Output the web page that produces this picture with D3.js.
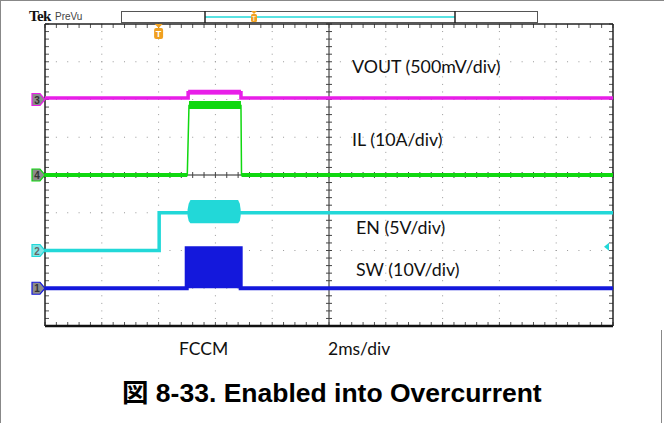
<!DOCTYPE html>
<html><head><meta charset="utf-8">
<script src="https://cdn.jsdelivr.net/npm/d3@7"></script>
<style>html,body{margin:0;padding:0;background:#fff}svg{display:block}</style>
</head><body>
<svg id="c" width="664" height="423"></svg>
<script>
// ---- data (time in ms, 2 ms/div, 10 div; values in channel units) ----
const timeDomain = [0, 20];
const divCount = [10, 8];
const channelNames = ["SW", "EN", "VOUT", "IL"];
const channelIds = ["1", "2", "3", "4"];
const channelScale = [10, 5, 0.5, 10];      // units per division
const channelOffsetDiv = [1, 2, 6, 4];      // ground marker position (div from bottom)
const channelColors = ["#1418dc", "#22d8d8", "#e81ee8", "#10d810"];
const channelLabels = ["SW (10V/div)", "EN (5V/div)", "VOUT (500mV/div)", "IL (10A/div)"];

// SW (V)
const swTime = [0, 4.99, 4.99, 6.89, 6.89, 20];
const swVal  = [0, 0, 10.6, 10.6, 0, 0];
// EN (V)
const enTime = [0, 4.02, 4.02, 20];
const enVal  = [0, 0, 5.0, 5.0];
const enBandTime = [5.02, 5.06, 5.12, 6.80, 6.86, 6.89];
const enBandMin  = [4.6, 3.9, 3.6, 3.6, 3.9, 4.6];
const enBandMax  = [5.4, 6.2, 6.7, 6.7, 6.2, 5.4];
// VOUT (V)
const voutTime = [0, 5.04, 5.04, 6.90, 6.90, 20];
const voutVal  = [0.02, 0.02, 0.09, 0.09, 0.02, 0.02];
const voutBandTime = [5.04, 6.90];
const voutBandMin  = [0.07, 0.07];
const voutBandMax  = [0.13, 0.13];
// IL (A)
const ilTime = [0, 5.01, 5.07, 6.90, 6.92, 20];
const ilVal  = [0, 0, 18.4, 18.4, 0, 0];
const ilBandTime = [5.07, 6.90];
const ilBandMin  = [17.5, 17.5];
const ilBandMax  = [19.6, 19.6];

const triggerTime = 4.0;
const triggerLevelDiv = 2.1;   // EN trigger level arrow (div from bottom)
const axisTexts = ["FCCM", "2ms/div"];
const titleText = "図 8-33. Enabled into Overcurrent";

// ---- drawing ----
const svg = d3.select("#c");
const L = 45, R = 613, T = 24, B = 326;
const x = d3.scaleLinear().domain(timeDomain).range([L, R]);
const y = d3.scaleLinear().domain([0, divCount[1]]).range([B, T]);
const xd = d3.scaleLinear().domain([0, divCount[0]]).range([L, R]);

// page frame
svg.append("line").attr("x1",0.5).attr("y1",0).attr("x2",0.5).attr("y2",423).attr("stroke","#888");
svg.append("line").attr("x1",0).attr("y1",0.5).attr("x2",664).attr("y2",0.5).attr("stroke","#888");
svg.append("line").attr("x1",661.5).attr("y1",330).attr("x2",661.5).attr("y2",423).attr("stroke","#888");

// Tek PreVu header
svg.append("text").attr("x",29).attr("y",21).attr("font-family","Liberation Serif, 'Times New Roman'").attr("font-weight","bold")
  .attr("font-size",15).attr("fill","#111").attr("letter-spacing","-0.6").text("Tek");
svg.append("text").attr("x",55).attr("y",20).attr("font-family","Liberation Sans Narrow, Liberation Sans, Arial")
  .attr("font-size",10).attr("fill","#444").text("PreVu");
// preview bar
svg.append("rect").attr("x",121.5).attr("y",11.5).attr("width",416).attr("height",11).attr("fill","#fff").attr("stroke","#555");
svg.append("line").attr("x1",205).attr("x2",455).attr("y1",17).attr("y2",17).attr("stroke","#22d8d8").attr("stroke-width",1.5);
[205,455].forEach(px => svg.append("line").attr("x1",px).attr("x2",px).attr("y1",11).attr("y2",23).attr("stroke","#222").attr("stroke-width",1.5));
const pv = 254;
svg.append("path").attr("d",`M${pv-3},11 L${pv+3},11 L${pv},14 Z`).attr("fill","#f0a020");
svg.append("rect").attr("x",pv-3).attr("y",14).attr("width",6).attr("height",8).attr("rx",1.5).attr("fill","#f0a020");
svg.append("text").attr("x",pv).attr("y",21).attr("text-anchor","middle").attr("font-family","Liberation Sans, Arial").attr("font-size",7).attr("fill","#fff").text("T");

// grid dots
const g = svg.append("g");
const minorX = d3.range(0, divCount[0]*5 + 1).map(i => xd(i/5));
const minorY = d3.range(0, divCount[1]*5 + 1).map(i => y(i/5));
for (let k = 1; k < divCount[1]; k++) {
  if (k === 4) continue;
  minorX.forEach(px => g.append("rect").attr("x",px-0.5).attr("y",y(k)-0.5).attr("width",1).attr("height",1).attr("fill","#999"));
}
for (let k = 1; k < divCount[0]; k++) {
  if (k === 5) continue;
  minorY.forEach(py => g.append("rect").attr("x",xd(k)-0.5).attr("y",py-0.5).attr("width",1).attr("height",1).attr("fill","#999"));
}
// center cross with ticks
g.append("line").attr("x1",L).attr("x2",R).attr("y1",y(4)).attr("y2",y(4)).attr("stroke","#222").attr("stroke-width",1);
g.append("line").attr("x1",xd(5)).attr("x2",xd(5)).attr("y1",T).attr("y2",B).attr("stroke","#222").attr("stroke-width",1);
minorX.forEach(px => g.append("line").attr("x1",px).attr("x2",px).attr("y1",y(4)-3).attr("y2",y(4)+3).attr("stroke","#444"));
minorY.forEach(py => g.append("line").attr("x1",xd(5)-3).attr("x2",xd(5)+3).attr("y1",py).attr("y2",py).attr("stroke","#444"));
// border ticks
minorX.forEach(px => {
  g.append("line").attr("x1",px).attr("x2",px).attr("y1",T).attr("y2",T+4).attr("stroke","#555");
  g.append("line").attr("x1",px).attr("x2",px).attr("y1",B).attr("y2",B-4).attr("stroke","#555");
});
minorY.forEach(py => {
  g.append("line").attr("x1",L).attr("x2",L+4).attr("y1",py).attr("y2",py).attr("stroke","#555");
  g.append("line").attr("x1",R).attr("x2",R-4).attr("y1",py).attr("y2",py).attr("stroke","#555");
});
// border
g.append("line").attr("x1",L).attr("x2",R).attr("y1",T).attr("y2",T).attr("stroke","#222").attr("stroke-width",1.5);
g.append("line").attr("x1",L).attr("x2",R).attr("y1",B).attr("y2",B).attr("stroke","#111").attr("stroke-width",2.5);
g.append("line").attr("x1",L).attr("x2",L).attr("y1",T).attr("y2",B).attr("stroke","#222").attr("stroke-width",1.5);
g.append("line").attr("x1",R).attr("x2",R).attr("y1",T).attr("y2",B).attr("stroke","#222").attr("stroke-width",1.5);

// helpers
function toDiv(ch, v){ return channelOffsetDiv[ch] + v / channelScale[ch]; }
function trace(ch, ts, vs, w){
  const pts = ts.map((t,i)=>[x(t), y(toDiv(ch, vs[i]))]);
  svg.append("path").attr("d", d3.line()(pts)).attr("fill","none")
    .attr("stroke",channelColors[ch]).attr("stroke-width",w).attr("stroke-linejoin","miter");
}
function band(ch, ts, mins, maxs, op){
  const data = ts.map((t,i)=>({t, lo:mins[i], hi:maxs[i]}));
  const a = d3.area().x(d=>x(d.t)).y0(d=>y(toDiv(ch,d.lo))).y1(d=>y(toDiv(ch,d.hi)));
  svg.append("path").attr("d", a(data)).attr("fill",channelColors[ch]).attr("opacity",op||1);
}

// SW (ch index 0): filled block
trace(0, swTime, swVal, 4);
band(0, [swTime[1], swTime[4]], [0,0], [swVal[2], swVal[3]]);
// EN (ch 1)
trace(1, enTime, enVal, 3.5);
band(1, enBandTime, enBandMin, enBandMax);
// IL (ch 3)
trace(3, [ilTime[0], ilTime[1]], [ilVal[0], ilVal[1]], 4);
trace(3, [ilTime[4], ilTime[5]], [ilVal[4], ilVal[5]], 4);
trace(3, ilTime, ilVal, 1.5);
band(3, ilBandTime, ilBandMin, ilBandMax);
// VOUT (ch 2)
trace(2, voutTime, voutVal, 3.5);
band(2, voutBandTime, voutBandMin, voutBandMax);

// channel markers
channelIds.forEach((id, ch) => {
  const py = y(channelOffsetDiv[ch]);
  const fill = ch === 1 ? "#7fe6e6" : "#8c8c8c";
  svg.append("path").attr("d", `M32,${py-6} L40,${py-6} L45,${py} L40,${py+6} L32,${py+6} Z`)
    .attr("fill", fill).attr("stroke", channelColors[ch]).attr("stroke-width",1.2);
  svg.append("text").attr("x",37).attr("y",py+4).attr("text-anchor","middle")
    .attr("font-family","Liberation Sans, Arial").attr("font-size",10).attr("font-weight","bold")
    .attr("fill", ch === 1 ? "#666" : "#333").text(id);
});

// trigger position marker
const tx = x(triggerTime);
svg.append("path").attr("d",`M${tx-4},${T} L${tx+4},${T} L${tx},${T+4} Z`).attr("fill","#f0a020");
svg.append("rect").attr("x",tx-4.5).attr("y",T+4).attr("width",9).attr("height",11).attr("rx",2).attr("fill","#f0a020");
svg.append("text").attr("x",tx).attr("y",T+13).attr("text-anchor","middle").attr("font-family","Liberation Sans, Arial")
  .attr("font-size",9).attr("font-weight","bold").attr("fill","#fff").text("T");
// trigger level arrow
const ty = y(triggerLevelDiv);
svg.append("path").attr("d",`M${R-9},${ty} L${R-4},${ty-4} L${R-4},${ty+4} Z`).attr("fill","#22d8d8");

// channel labels
const labelPos = [[356,276],[356,234],[352,73],[352,146]];
channelLabels.forEach((t,ch)=>{
  svg.append("text").attr("x",labelPos[ch][0]).attr("y",labelPos[ch][1])
    .attr("font-family","Lato, 'Open Sans', sans-serif").attr("font-size",17.8).attr("fill","#111").text(t);
});
svg.append("text").attr("x",179).attr("y",355).attr("font-family","Lato, sans-serif").attr("font-size",17.5).attr("fill","#111").text(axisTexts[0]);
svg.append("text").attr("x",328).attr("y",355).attr("font-family","Lato, sans-serif").attr("font-size",17.5).attr("fill","#111").text(axisTexts[1]);
// title
svg.append("text").attr("x",122).attr("y",402).attr("font-family","'Liberation Sans', Arial, 'Noto Sans CJK JP'")
  .attr("font-weight","bold").attr("font-size",26.5).attr("fill","#000").text(titleText);
</script>
</body></html>
